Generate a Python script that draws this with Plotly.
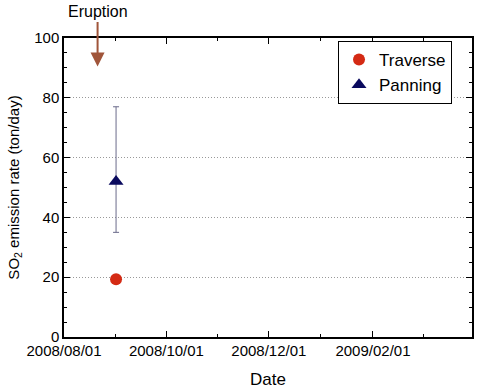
import plotly.graph_objects as go

traverse_dates = ["2008-09-01"]
traverse_values = [19.3]
panning_dates = ["2008-09-01"]
panning_values = [52]
panning_err_plus = [25]
panning_err_minus = [17]
eruption_date = "2008-08-21"
x_tickvals = ["2008-08-01", "2008-10-01", "2008-12-01", "2009-02-01"]
x_ticktext = ["2008/08/01", "2008/10/01", "2008/12/01", "2009/02/01"]
x_minorvals = ["2008-08-31 12:00", "2008-10-31 12:00", "2009-01-01", "2009-03-03"]

font = "Liberation Sans, Arial, sans-serif"

fig = go.Figure()
fig.add_trace(go.Scatter(
    x=traverse_dates, y=traverse_values, mode="markers", name="Traverse",
    marker=dict(symbol="circle", size=12, color="#d42a14"),
))
fig.add_trace(go.Scatter(
    x=panning_dates, y=panning_values, mode="markers", name="Panning",
    marker=dict(symbol="triangle-up", size=13, color="#0a0a5e"),
    error_y=dict(type="data", symmetric=False, array=panning_err_plus,
                 arrayminus=panning_err_minus, color="#6a6a8a", thickness=1, width=3),
))

fig.add_annotation(x=eruption_date, y=90.5, ax=eruption_date, ay=108.7,
                   axref="x", ayref="y", xref="x", yref="y", text="Eruption",
                   showarrow=True, arrowhead=2, arrowsize=1.4, arrowwidth=2,
                   arrowcolor="#a0553a", font=dict(family=font, size=16, color="black"))

fig.update_layout(
    width=479, height=389,
    margin=dict(l=64, r=7, t=38, b=52, autoexpand=False),
    plot_bgcolor="white", paper_bgcolor="white",
    font=dict(family=font, size=15, color="black"),
    showlegend=True,
    legend=dict(x=0.951, y=0.99, xanchor="right", yanchor="top",
                bordercolor="black", borderwidth=1, bgcolor="white",
                font=dict(size=17), itemwidth=30, tracegroupgap=0),
    xaxis=dict(
        type="date", range=["2008-08-01", "2009-04-01"], automargin=False,
        tickmode="array", tickvals=x_tickvals, ticktext=x_ticktext,
        ticks="inside", ticklen=6, tickwidth=1, tickcolor="black",
        showline=True, linecolor="black", linewidth=1.5, mirror="allticks",
        showgrid=False, zeroline=False, ticklabelstandoff=-1,
        minor=dict(tickmode="array", tickvals=x_minorvals, ticks="inside",
                   ticklen=3, tickcolor="black", showgrid=False),
        title=dict(text="Date", font=dict(size=17)),
        tickfont=dict(size=15),
    ),
    yaxis=dict(
        range=[0, 100], tickmode="linear", tick0=0, dtick=20, automargin=False,
        ticks="inside", ticklen=6, tickwidth=1, tickcolor="black",
        showline=True, linecolor="black", linewidth=1.5, mirror="allticks",
        showgrid=True, gridcolor="#999999", griddash="1px,2px", gridwidth=1,
        zeroline=False,
        minor=dict(dtick=5, ticks="inside", ticklen=3, tickcolor="black", showgrid=False),
        title=dict(text="SO<sub>2</sub> emission rate (ton/day)", font=dict(size=15), standoff=11),
        tickfont=dict(size=15),
    ),
)

fig.write_html("out.html", config={"displayModeBar": False},
               post_script="document.body.style.margin='0';document.body.style.overflow='hidden';")
